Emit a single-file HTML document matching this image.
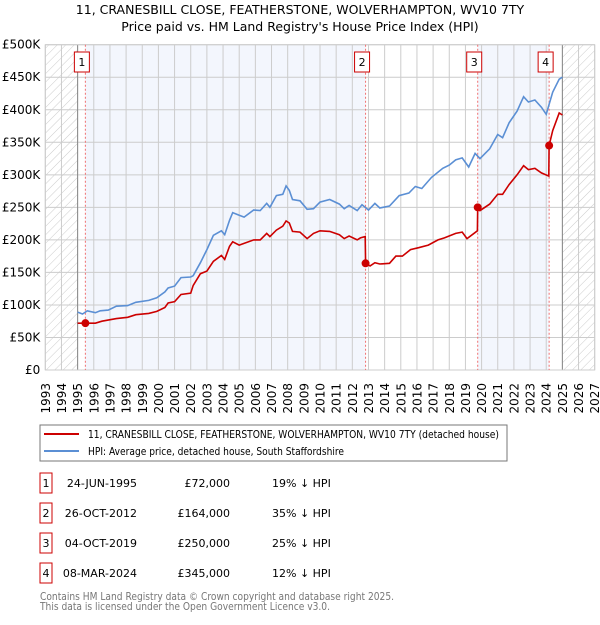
<!DOCTYPE html>
<html><head><meta charset="utf-8"><style>
body{margin:0;background:#fff;font-family:"Liberation Sans","DejaVu Sans",sans-serif;}
svg text{font-family:"DejaVu Sans","Liberation Sans",sans-serif;}
</style></head><body>
<svg id="c" width="600" height="620" xmlns="http://www.w3.org/2000/svg">
<defs><pattern id="hatch" width="6" height="6" patternUnits="userSpaceOnUse" patternTransform="rotate(45)"><line x1="0" y1="0" x2="0" y2="6" stroke="#ccc" stroke-width="1"/></pattern></defs>
<text x="300" y="14" text-anchor="middle" font-size="12.5" fill="#000">11, CRANESBILL CLOSE, FEATHERSTONE, WOLVERHAMPTON, WV10 7TY</text>
<text x="300" y="31" text-anchor="middle" font-size="12.5" fill="#000">Price paid vs. HM Land Registry's House Price Index (HPI)</text>
<g id="plot"></g>
<rect x="40" y="425" width="467" height="36" fill="#fff" stroke="#777"/>
<line x1="44" y1="434" x2="79" y2="434" stroke="#cc0000" stroke-width="2"/>
<text x="88" y="438" font-size="10.5" textLength="411" lengthAdjust="spacingAndGlyphs">11, CRANESBILL CLOSE, FEATHERSTONE, WOLVERHAMPTON, WV10 7TY (detached house)</text>
<line x1="44" y1="451" x2="79" y2="451" stroke="#5b8fd4" stroke-width="2"/>
<text x="88" y="455" font-size="10.5" textLength="256" lengthAdjust="spacingAndGlyphs">HPI: Average price, detached house, South Staffordshire</text>
<g id="table" font-size="11"></g>
<text x="40" y="600" font-size="11" fill="#777" textLength="354" lengthAdjust="spacingAndGlyphs">Contains HM Land Registry data © Crown copyright and database right 2025.</text>
<text x="40" y="610" font-size="11" fill="#777" textLength="290" lengthAdjust="spacingAndGlyphs">This data is licensed under the Open Government Licence v3.0.</text>
</svg>
<script>
const hpiYears=[1995.0,1995.3,1995.6,1996.1,1996.4,1996.9,1997.4,1998.1,1998.6,1999.4,1999.9,2000.4,2000.6,2001.0,2001.4,2002.0,2002.15,2002.6,2003.0,2003.4,2003.9,2004.1,2004.4,2004.6,2005.0,2005.3,2005.9,2006.3,2006.7,2006.9,2007.3,2007.7,2007.9,2008.1,2008.3,2008.76,2009.2,2009.6,2010.0,2010.6,2011.2,2011.5,2011.8,2012.3,2012.6,2013.0,2013.4,2013.7,2014.3,2014.9,2015.5,2015.9,2016.3,2016.9,2017.6,2018.0,2018.4,2018.8,2019.2,2019.6,2019.9,2020.5,2021.0,2021.3,2021.7,2022.2,2022.6,2022.9,2023.3,2023.7,2024.0,2024.4,2024.8,2025.0];
const hpiValues=[89,86,91,88,91,92,98,99,104,107,111,120,126,129,142,143,145,165,185,207,214,208,230,242,238,235,246,245,256,250,268,270,283,276,262,260,247,248,258,262,255,248,253,245,254,246,256,249,252,268,272,282,279,296,310,315,323,326,312,333,325,340,362,357,380,398,420,412,415,404,393,427,447,450];
const priceYears=[1995.0,1995.48,1996.1,1996.5,1997.4,1998.1,1998.6,1999.4,1999.9,2000.4,2000.6,2001.0,2001.4,2002.0,2002.15,2002.6,2003.0,2003.4,2003.9,2004.1,2004.4,2004.6,2005.0,2005.9,2006.3,2006.7,2006.9,2007.3,2007.7,2007.9,2008.1,2008.3,2008.76,2009.2,2009.6,2010.0,2010.6,2011.2,2011.5,2011.8,2012.3,2012.5,2012.8,2012.82,2013.1,2013.4,2013.7,2014.3,2014.7,2015.1,2015.6,2016.1,2016.7,2017.3,2017.7,2018.4,2018.8,2019.1,2019.74,2019.76,2019.9,2020.5,2021.0,2021.3,2021.7,2022.2,2022.6,2022.9,2023.3,2023.7,2024.16,2024.18,2024.4,2024.8,2025.0];
const priceValues=[72,72,72,75,79,81,85,87,90,96,103,105,116,118,130,148,152,167,176,170,190,197,192,200,200,210,205,215,221,229,226,213,212,202,210,214,213,208,202,206,200,203,205,164,160,165,163,164,175,175,185,188,192,200,203,210,212,202,214,250,245,255,270,270,285,300,314,308,310,303,298,345,368,395,392];
const saleLabels=["1","2","3","4"];
const saleYears=[1995.48,2012.82,2019.76,2024.18];
const saleValues=[72,164,250,345];
const saleDates=["24-JUN-1995","26-OCT-2012","04-OCT-2019","08-MAR-2024"];
const salePrices=["£72,000","£164,000","£250,000","£345,000"];
const saleHpi=["19% ↓ HPI","35% ↓ HPI","25% ↓ HPI","12% ↓ HPI"];
const yTicks=[0,50,100,150,200,250,300,350,400,450,500];
const yTickLabels=["£0","£50K","£100K","£150K","£200K","£250K","£300K","£350K","£400K","£450K","£500K"];
const xStart=1993,xEnd=2027,dataStart=1995,dataEnd=2025;

const L=45.3,R=594.7,T=44.7,B=370;
const X=y=>L+(y-xStart)/(xEnd-xStart)*(R-L);
const Y=v=>B-v/500*(B-T);
const NS="http://www.w3.org/2000/svg";
const g=document.getElementById('plot');
function mk(tag,at,parent){const e=document.createElementNS(NS,tag);for(const k in at)e.setAttribute(k,at[k]);(parent||g).appendChild(e);return e;}

let e=mk('rect',{x:L,y:T,width:R-L,height:B-T,fill:'#fff'});


const bands=[[saleYears[0],saleYears[1]],[saleYears[2],saleYears[3]]];
bands.forEach((b,i)=>{const r=mk('rect',{x:X(b[0]),y:T,width:X(b[1])-X(b[0]),height:B-T,fill:'#f3f6fd'});

});
e=mk('rect',{x:L,y:T,width:X(dataStart)-L,height:B-T,fill:'url(#hatch)'});


e=mk('rect',{x:X(dataEnd),y:T,width:R-X(dataEnd),height:B-T,fill:'url(#hatch)'});


yTicks.forEach((v,i)=>{const l=mk('line',{x1:L,x2:R,y1:Y(v),y2:Y(v),stroke:'#ccc','stroke-width':1});


const t=mk('text',{x:L-5,y:Y(v)+4,'text-anchor':'end','font-size':12});t.textContent=yTickLabels[i];

});
for(let yr=xStart;yr<=xEnd;yr++){const l=mk('line',{x1:X(yr),x2:X(yr),y1:T,y2:B,stroke:'#ccc','stroke-width':1});


const t=mk('text',{x:0,y:0,'text-anchor':'end','font-size':12,transform:`translate(${X(yr)+4.5},383) rotate(-90)`});t.textContent=yr;

}
[dataStart,dataEnd].forEach(yr=>{const l=mk('line',{x1:X(yr),x2:X(yr),y1:T,y2:B,stroke:'#888','stroke-width':1});

});
e=mk('rect',{x:L,y:T,width:R-L,height:B-T,fill:'none',stroke:'#ccc'});


saleYears.forEach(s=>{const l=mk('line',{x1:X(s),x2:X(s),y1:T,y2:B,stroke:'#f07070','stroke-width':1,'stroke-dasharray':'2,2'});

});
const pts=(xs,vs)=>xs.map((x,i)=>X(x).toFixed(1)+','+Y(vs[i]).toFixed(1)).join(' ');
e=mk('polyline',{points:pts(hpiYears,hpiValues),fill:'none',stroke:'#5b8fd4','stroke-width':1.6});


e=mk('polyline',{points:pts(priceYears,priceValues),fill:'none',stroke:'#cc0000','stroke-width':1.6});


saleYears.forEach((s,i)=>{const d=mk('circle',{cx:X(s),cy:Y(saleValues[i]),r:4,fill:'#cc0000'});


const bx=X(s)-11;const r=mk('rect',{x:bx,y:52,width:15,height:20,fill:'#fff',stroke:'#cc0000'});


const t=mk('text',{x:bx+7.5,y:66,'text-anchor':'middle','font-size':11});t.textContent=saleLabels[i];

});
const tb=document.getElementById('table');
saleLabels.forEach((lab,i)=>{const cy=483+i*30;
const r=mk('rect',{x:40,y:cy-10,width:12,height:20,fill:'#fff',stroke:'#cc0000'},tb);


const cells=[[46,'middle',lab,'table-row-number'],[137,'end',saleDates[i],'table-date'],[230,'end',salePrices[i],'table-price'],[272,'start',saleHpi[i],'table-hpi-diff']];
cells.forEach(c=>{const t=mk('text',{x:c[0],y:cy+4,'text-anchor':c[1]},tb);t.textContent=c[2];

});});
</script>
</body></html>
